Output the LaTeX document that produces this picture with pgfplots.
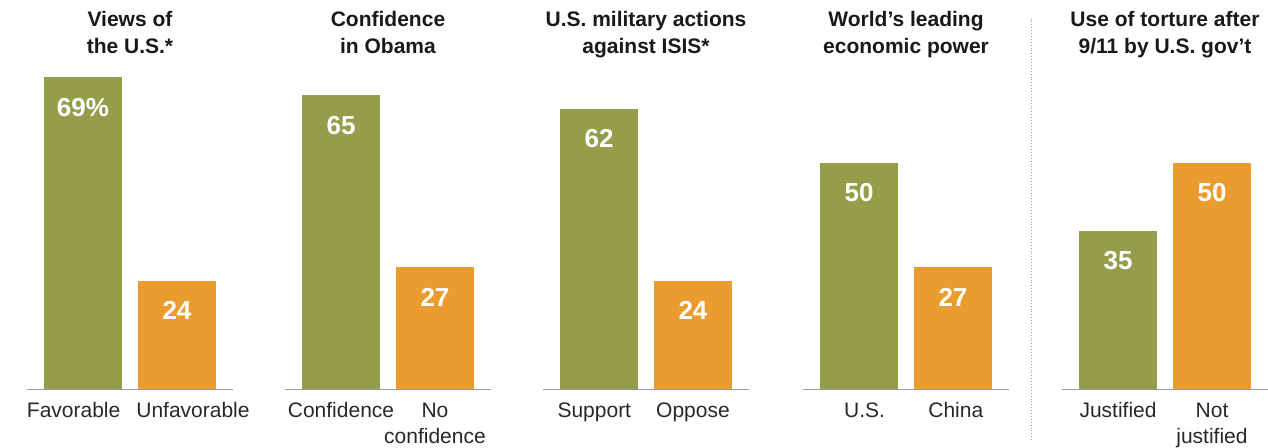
\documentclass[border=0pt]{standalone}
\usepackage{pgfplots}
\pgfplotsset{compat=1.18}
\usepackage{fontspec}
\setmainfont{Liberation Sans}
\definecolor{pgreen}{RGB}{148,158,74}
\definecolor{porange}{RGB}{234,157,46}
\definecolor{ptext}{RGB}{40,40,40}
\pgfplotsset{panel/.style={
  scale only axis, width=206pt, height=325.44pt,
  anchor=south west,
  xmin=-0.596, xmax=1.596, ymin=0, ymax=72,
  axis y line=none, axis x line*=bottom,
  x axis line style={-, draw=black!40, line width=0.8pt},
  xtick={0,1}, major tick length=0pt, xtick style={draw=none},
  ytick=\empty,
  ybar, bar width=78pt,
  clip=false,
  /pgf/number format/assume math mode=true,
  typeset ticklabels with strut,
  xticklabel style={align=center, font=\fontsize{21}{26}\selectfont, text=ptext, anchor=north, inner sep=0pt, yshift=-9.8pt},
  title style={align=center, font=\bfseries\fontsize{21}{27}\selectfont, text=black!90, anchor=south, inner sep=0pt, at={(0.5,1)}, yshift=-4.5pt},
  nodes near coords,
  every node near coord/.append style={anchor=center, yshift=-30pt, text=white, font=\bfseries\fontsize{26}{30}\selectfont, inner sep=0pt},
}}
\begin{document}
\begin{tikzpicture}
\useasboundingbox (0,0) rectangle (1268pt,447pt);
% panel 1
\begin{axis}[panel, at={(27pt,58pt)}, title={Views of\\the U.S.*\strut},
  xtick={-0.10,1.17}, xticklabels={Favorable,Unfavorable}]
\addplot[fill=pgreen, draw=none, bar shift=0pt,
  nodes near coords={\pgfmathprintnumber{\pgfplotspointmeta}\%}] coordinates {(0,69)};
\addplot[fill=porange, draw=none, bar shift=0pt] coordinates {(1,24)};
\end{axis}
% panel 2
\begin{axis}[panel, at={(285pt,58pt)}, title={Confidence\\in Obama\strut},
  xticklabels={Confidence,{No\\confidence}}]
\addplot[fill=pgreen, draw=none, bar shift=0pt] coordinates {(0,65)};
\addplot[fill=porange, draw=none, bar shift=0pt] coordinates {(1,27)};
\end{axis}
% panel 3
\begin{axis}[panel, at={(543pt,58pt)}, title={U.S. military actions\\against ISIS*\strut},
  xtick={-0.05,1}, xticklabels={Support,Oppose}]
\addplot[fill=pgreen, draw=none, bar shift=0pt] coordinates {(0,62)};
\addplot[fill=porange, draw=none, bar shift=0pt] coordinates {(1,24)};
\end{axis}
% panel 4
\begin{axis}[panel, at={(803pt,58pt)}, title={World’s leading\\economic power\strut},
  xtick={0.06,1.03}, xticklabels={U.S.,China}]
\addplot[fill=pgreen, draw=none, bar shift=0pt] coordinates {(0,50)};
\addplot[fill=porange, draw=none, bar shift=0pt] coordinates {(1,27)};
\end{axis}
% panel 5
\begin{axis}[panel, at={(1062pt,58pt)}, title={Use of torture after\\9/11 by U.S. gov’t\strut},
  xticklabels={Justified,{Not\\justified}}]
\addplot[fill=pgreen, draw=none, bar shift=0pt] coordinates {(0,35)};
\addplot[fill=porange, draw=none, bar shift=0pt] coordinates {(1,50)};
\end{axis}
\draw[black!40, line width=0.9pt, dash pattern=on 0.9pt off 2pt] (1031pt,7pt) -- (1031pt,430pt);
\end{tikzpicture}
\end{document}
